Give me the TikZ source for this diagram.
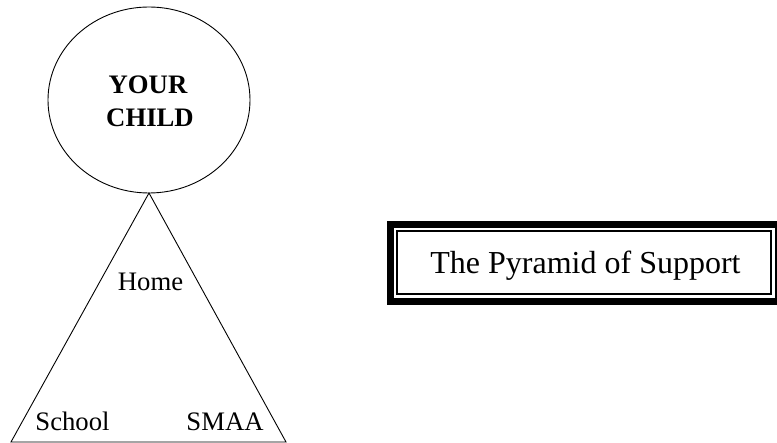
\documentclass[tikz,border=0pt]{standalone}
\usepackage{fontspec}
\setmainfont{Liberation Serif}
\usetikzlibrary{shapes.geometric}
\begin{document}
\begin{tikzpicture}[x=1pt,y=-1pt,line join=miter]
\useasboundingbox (0,0) rectangle (777,443);
\tikzset{
  lbl/.style={font=\fontsize{26.7}{32}\selectfont, anchor=base, inner sep=0pt},
  boldlbl/.style={font=\fontsize{26.7}{32}\selectfont\bfseries, anchor=base, inner sep=0pt},
  thinline/.style={line width=0.9pt},
}
% circle
\node[draw, ellipse, thinline, minimum width=202pt, minimum height=186pt, inner sep=0pt, outer sep=0pt] (child) at (149,100) {};
\node[boldlbl] (your) at (148,94) {YOUR};
\node[boldlbl] (chld) at (150,127) {CHILD};
% triangle
\coordinate (bl) at (11,442);
\coordinate (br) at (286,442);
\draw[thinline] (child.south) -- (bl) -- (br) -- cycle;
\node[lbl] (home) at (150.5,291) {Home};
\node[lbl] (school) at (72.5,431) {School};
\node[lbl] (smaa) at (225,431) {SMAA};
% title box
\draw[line width=7pt] (390.5,224.5) rectangle (778,301.5);
\draw[line width=1.8pt] (397.3,231.2) rectangle (771.2,294.3);
\node[font=\fontsize{32}{38}\selectfont, anchor=base, inner sep=0pt] (title) at (585.5,273.3) {The Pyramid of Support};
\end{tikzpicture}
\end{document}
